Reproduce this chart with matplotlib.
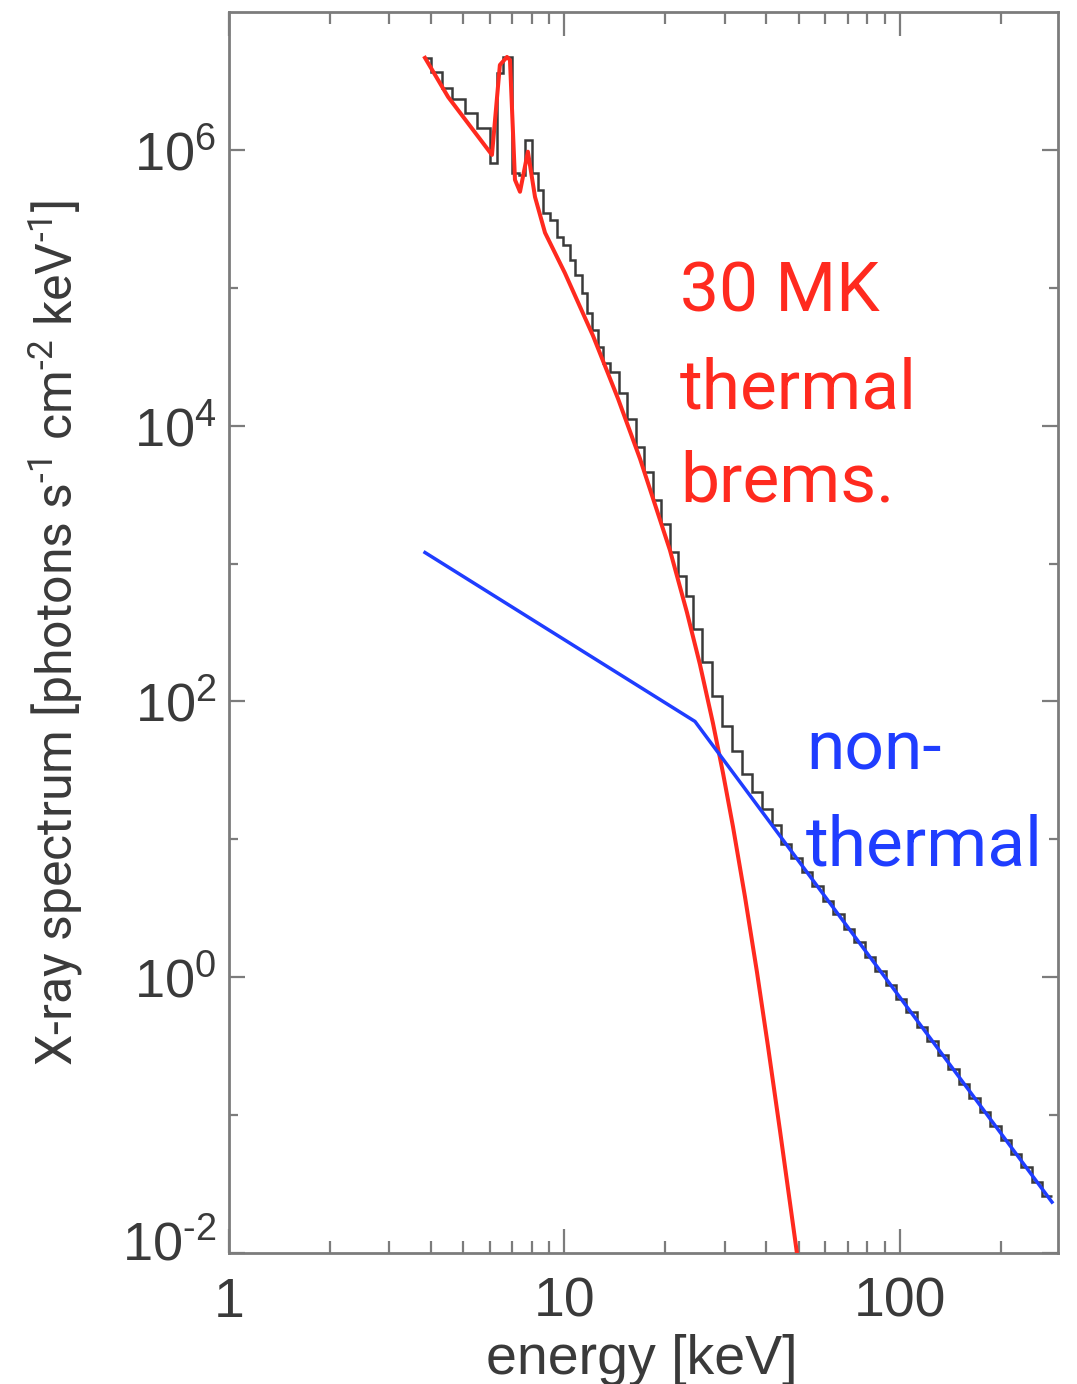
import math
import matplotlib
matplotlib.use("Agg")
import matplotlib.pyplot as plt
from matplotlib import ticker, transforms

plt.rcParams['font.family'] = ['Liberation Sans', 'DejaVu Sans']
plt.rcParams['mathtext.fontset'] = 'custom'
plt.rcParams['mathtext.rm'] = 'Roboto'
plt.rcParams['mathtext.it'] = 'Roboto'

# ---- data ----
# observed (black histogram) : bin edges [keV] and values
hist_edges = [3.84, 4.00, 4.31, 4.62, 5.05, 5.49, 6.00, 6.29, 6.56, 6.98,
              7.32, 7.63, 8.00, 8.34, 8.63, 9.05, 9.50, 9.90, 10.38, 10.75,
              11.28, 11.67, 12.08, 12.59, 13.02, 13.66, 14.54, 15.36, 16.34, 17.26,
              18.36, 19.39, 20.63, 21.80, 23.02, 24.15, 25.69, 27.52, 29.48, 31.57,
              33.81, 36.22, 38.79, 41.55, 44.19, 47.33, 51.05, 54.67, 58.97, 63.15,
              68.10, 72.94, 78.65, 84.25, 90.85, 97.30, 104.2, 112.4, 120.4, 129.8,
              139.0, 150.0, 160.6, 173.2, 185.5, 200.0, 214.2, 229.5, 247.5, 265.0,
              283.9]
hist_values = [4.64e6, 3.67e6, 2.81e6, 2.34e6, 1.85e6, 1.44e6, 8.05e5, 3.61e6, 4.72e6, 6.81e5,
               6.59e5, 1.18e6, 6.81e5, 5.13e5, 3.49e5, 3.11e5, 2.34e5, 2.05e5, 1.60e5, 1.24e5,
               9.20e4, 6.59e4, 4.97e4, 3.74e4, 2.86e4, 2.46e4, 1.73e4, 1.12e4, 7.05e3, 4.64e3,
               2.91e3, 1.95e3, 1.22e3, 818, 577, 333, 192, 109, 65.9, 43.5,
               29.6, 21.9, 16.5, 12.8, 9.22, 7.37, 5.75, 4.59, 3.59, 2.87,
               2.24, 1.79, 1.40, 1.11, 0.872, 0.696, 0.555, 0.433, 0.346, 0.271,
               0.216, 0.169, 0.134, 0.105, 0.0840, 0.0656, 0.0524, 0.0418, 0.0327, 0.0261]

# thermal bremsstrahlung model (red)
thermal_e = [3.84, 4.50, 6.08, 6.42, 6.74, 6.88, 7.12, 7.37, 7.78, 8.17,
             8.75, 10.03, 12.16, 14.43, 16.8, 20.63, 23.18, 25.34, 27.71, 29.68,
             31.79, 34.51, 37.48, 40.43, 43.88, 49.32]
thermal_f = [4.65e6, 2.42e6, 9.2e5, 4.13e6, 4.72e6, 4.49e6, 6.07e5, 4.97e5, 9.7e5, 4.56e5,
             2.51e5, 1.28e5, 4.50e4, 1.58e4, 5.75e3, 1250, 443, 186, 69.7, 30.4,
             12.4, 3.86, 1.094, 0.316, 0.078, 0.01]

# non-thermal broken power law (blue)
nonthermal_e = [3.84, 24.5, 284]
nonthermal_f = [1202, 71.6, 0.0234]

x_major = [1, 10, 100]
x_minor = [2, 3, 4, 5, 6, 7, 8, 9, 20, 30, 40, 50, 60, 70, 80, 90, 200, 300]
y_major = [1e-2, 1e0, 1e2, 1e4, 1e6]
y_minor = [1e-1, 1e1, 1e3, 1e5]

HY = '\u2010'  # short hyphen used as the minus sign in the reference

# ---- figure ----
W, H = 1077, 1384
fig = plt.figure(figsize=(W / 100, H / 100), dpi=100)
L, R, T, B = 229, 1058, 12, 1253
ax = fig.add_axes([L / W, 1 - B / H, (R - L) / W, (B - T) / H])
ax.set_xscale('log')
ax.set_yscale('log')

ax.stairs(hist_values, hist_edges, baseline=None, color='#3a3a3a', lw=1.8, zorder=2)
ax.plot(thermal_e, thermal_f, color='#ff2a1f', lw=2.9, zorder=3,
        solid_joinstyle='round')
ax.plot(nonthermal_e, nonthermal_f, color='#1f3dff', lw=2.5, zorder=4)

ax.set_xlim(1, 296)
ax.set_ylim(1e-2, 1e7)


def yfmt(v, p):
    e = round(math.log10(v))
    s = (HY + str(-e)) if e < 0 else str(e)
    return r'$\mathdefault{10^{%s}}$' % s


ax.xaxis.set_major_locator(ticker.FixedLocator(x_major))
ax.xaxis.set_minor_locator(ticker.FixedLocator(x_minor))
ax.xaxis.set_major_formatter(ticker.FuncFormatter(lambda v, p: f'{v:g}'))
ax.xaxis.set_minor_formatter(ticker.NullFormatter())
ax.yaxis.set_major_locator(ticker.FixedLocator(y_major))
ax.yaxis.set_minor_locator(ticker.FixedLocator(y_minor))
ax.yaxis.set_major_formatter(ticker.FuncFormatter(yfmt))
ax.yaxis.set_minor_formatter(ticker.NullFormatter())

axis_gray = '#7c7c7c'
lab_col = '#3a3a3a'
for s in ax.spines.values():
    s.set_color(axis_gray)
    s.set_linewidth(2.0)
ax.tick_params(which='both', direction='in', top=True, right=True, color=axis_gray)
ax.tick_params(axis='x', which='major', length=17, width=1.6, pad=17,
               labelsize=40, labelcolor=lab_col)
ax.tick_params(axis='x', which='minor', length=8.5, width=1.6)
ax.tick_params(axis='y', which='major', length=11.5, width=1.6, pad=9,
               labelsize=39, labelcolor=lab_col)
ax.tick_params(axis='y', which='minor', length=6.5, width=1.6)

# lift the bottom (10^-2) label slightly, as in the reference
yticks = ax.yaxis.get_major_ticks()
lab0 = yticks[0].label1
lab0.set_transform(lab0.get_transform() +
                   transforms.ScaledTranslation(0, 13 / 100, fig.dpi_scale_trans))

ax.set_xlabel('energy [keV]', fontsize=40, color=lab_col)
ax.xaxis.set_label_coords(0.498, -0.065)
ax.set_ylabel('X-ray spectrum [photons s$^{%s1}$ cm$^{%s2}$ keV$^{%s1}$]' % (HY, HY, HY),
              fontsize=36, color=lab_col, family=['Roboto', 'DejaVu Sans'])
ax.yaxis.set_label_coords(-0.174, 0.5)


def ax_xy(px, py):
    return (px - L) / (R - L), (B - py) / (B - T)


txt_font = ['Roboto', 'DejaVu Sans']
for line, by in [('30 MK', 312), ('thermal', 408), ('brems.', 502)]:
    x, y = ax_xy(680, by)
    ax.text(x, y, line, transform=ax.transAxes, color='#ff2a1f', fontsize=50,
            family=txt_font, ha='left', va='baseline')
for line, by in [('non-', 770), ('thermal', 865)]:
    x, y = ax_xy(806, by)
    ax.text(x, y, line, transform=ax.transAxes, color='#1f3dff', fontsize=50,
            family=txt_font, ha='left', va='baseline')

fig.savefig('out.png', dpi=100)
